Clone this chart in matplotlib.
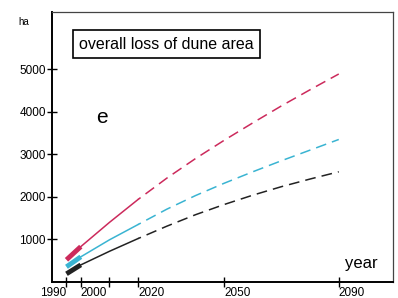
import matplotlib
matplotlib.use('Agg')
from matplotlib import pyplot as plt

plt.rcParams['font.family'] = ['Liberation Sans', 'DejaVu Sans']

# years along x; the first point sits on the tick the figure labels "1990"
years = [1995, 2000, 2010, 2020, 2030, 2040, 2050, 2060, 2070, 2080, 2090]
red = [520, 830, 1400, 1940, 2440, 2900, 3330, 3740, 4140, 4520, 4890]
cyan = [355, 590, 990, 1350, 1710, 2030, 2320, 2590, 2850, 3100, 3350]
black = [190, 400, 720, 1020, 1310, 1580, 1820, 2040, 2240, 2420, 2590]

xticks = [1995, 2000, 2010, 2020, 2050, 2090]
xlabels = ['1990', '2000', '', '2020', '2050', '2090']
yticks = [1000, 2000, 3000, 4000, 5000]

fig = plt.figure(figsize=(3.98, 2.98), dpi=100)
ax = fig.add_axes([0.131, 0.054, 0.857, 0.906])

cols = ['#cc2a5c', '#3ab4d2', '#222222']
for vals, c in zip([red, cyan, black], cols):
    # thick start 1995-2000, solid to 2020, dashed afterwards
    ax.plot(years[:2], vals[:2], color=c, lw=3.5, solid_capstyle='butt')
    ax.plot(years[1:4], vals[1:4], color=c, lw=1.1)
    ax.plot(years[3:], vals[3:], color=c, lw=1.1, linestyle=(5, (7, 4)))

ax.set_xlim(1990, 2109)
ax.set_ylim(0, 6350)
ax.set_xticks(xticks)
ax.set_xticklabels(xlabels)
for lab in ax.get_xticklabels():
    lab.set_ha('right' if lab.get_text() == '1990' else 'left')
ax.set_yticks(yticks)
ax.tick_params(direction='inout', length=7, width=1, labelsize=8.5, pad=1)
ax.tick_params(axis='x', pad=0)

for s in ['left', 'bottom']:
    ax.spines[s].set_linewidth(1.4)
for s in ['top', 'right']:
    ax.spines[s].set_linewidth(0.9)
    ax.spines[s].set_color('#444444')

ax.text(0.08, 0.88, 'overall loss of dune area', transform=ax.transAxes,
        fontsize=11.5, va='center', ha='left',
        bbox=dict(boxstyle='square,pad=0.4', fc='white', ec='black', lw=1.2))
ax.text(0.13, 0.61, 'e', transform=ax.transAxes, fontsize=15, va='center')
fig.text(0.045, 0.925, 'ha', fontsize=7, va='center')
ax.text(0.86, 0.07, 'year', transform=ax.transAxes, fontsize=12, va='center')

plt.savefig('out.png', dpi=100)
